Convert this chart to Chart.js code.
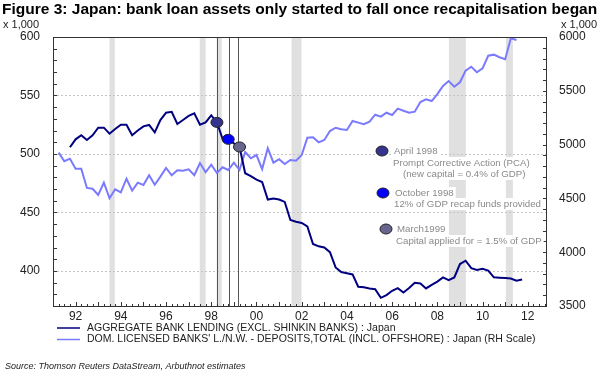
<!DOCTYPE html>
<html>
<head>
<meta charset="utf-8">
<script src="https://cdn.jsdelivr.net/npm/chart.js@4.4.1/dist/chart.umd.min.js"></script>
<style>
  html, body { margin: 0; padding: 0; background: #fff; }
  canvas { display: block; }
</style>
</head>
<body>
<canvas id="chart" width="600" height="376"></canvas>
<script>
// quarterly observations, Japan
var quarters = [
  '1991Q2','1991Q3','1991Q4',
  '1992Q1','1992Q2','1992Q3','1992Q4','1993Q1','1993Q2','1993Q3','1993Q4',
  '1994Q1','1994Q2','1994Q3','1994Q4','1995Q1','1995Q2','1995Q3','1995Q4',
  '1996Q1','1996Q2','1996Q3','1996Q4','1997Q1','1997Q2','1997Q3','1997Q4',
  '1998Q1','1998Q2','1998Q3','1998Q4','1999Q1','1999Q2','1999Q3','1999Q4',
  '2000Q1','2000Q2','2000Q3','2000Q4','2001Q1','2001Q2','2001Q3','2001Q4',
  '2002Q1','2002Q2','2002Q3','2002Q4','2003Q1','2003Q2','2003Q3','2003Q4',
  '2004Q1','2004Q2','2004Q3','2004Q4','2005Q1','2005Q2','2005Q3','2005Q4',
  '2006Q1','2006Q2','2006Q3','2006Q4','2007Q1','2007Q2','2007Q3','2007Q4',
  '2008Q1','2008Q2','2008Q3','2008Q4','2009Q1','2009Q2','2009Q3','2009Q4',
  '2010Q1','2010Q2','2010Q3','2010Q4','2011Q1','2011Q2','2011Q3','2011Q4'
];

// aggregate bank lending (left scale, x 1,000)
var lending = [
  null, null, 505.7,
  512.5, 516, 512, 516,   522.5, 522.5, 517.3, 521.3,
  525, 525, 516, 520,     523.6, 524.8, 518.5, 529,
  535.3, 536, 525.6, 529, 532.5, 534.7, 525, 527,
  533, 527, 513, 512.5,   509, 506, 483.5, 481,
  478, 476, 461, 462,     461, 459, 443.5, 442,
  441, 438, 423, 421,     420, 416, 403, 399,
  398, 397, 386.5, 386,   385, 384.3, 377, 379.3,
  383, 385.3, 381.6, 385.3, 389.8, 389.2, 385, 388.1,
  390.9, 394.4, 392.1, 394.4, 405.9, 408.7, 402.3, 400.9,
  401.8, 400.3, 394.5, 394.2, 394, 393.5, 391.7, 392.6
];

// deposits total (right scale, x 1,000)
var deposits = [
  4925, 4845, 4869,
  4776, 4776, 4597, 4590, 4532, 4646, 4501, 4585,
  4557, 4683, 4572, 4646, 4625, 4715, 4627, 4702,
  4783, 4715, 4761, 4758, 4770, 4715, 4829, 4743,
  4813, 4736, 4789, 4764, 4832, 4764, 4931, 4873,
  4903, 4773, 4966, 4832, 4864, 4820, 4857, 4850,
  4903, 5064, 5068, 5021, 5043, 5126, 5157, 5142,
  5136, 5219, 5204, 5189, 5213, 5278, 5260, 5296,
  5275, 5334, 5315, 5296, 5306, 5396, 5421, 5405,
  5470, 5545, 5591, 5538, 5579, 5687, 5724, 5672,
  5709, 5826, 5836, 5812, 5793, 5988, 5972, null
];

var seriesNames = [
  'AGGREGATE BANK LENDING (EXCL. SHINKIN BANKS) : Japan',
  "DOM. LICENSED BANKS' L./N.W. - DEPOSITS,TOTAL (INCL. OFFSHORE) : Japan (RH Scale)"
];

var xTicks = [1992, 1994, 1996, 1998, 2000, 2002, 2004, 2006, 2008, 2010, 2012];
var leftTicks = [400, 450, 500, 550, 600];
var rightTicks = [3500, 4000, 4500, 5000, 5500, 6000];

// shaded periods (decimal years)
var bands = [
  [1993.50, 1993.73], [1997.49, 1997.75], [1998.24, 1998.46],
  [2001.55, 2001.99], [2008.51, 2009.26], [2011.03, 2011.34]
];

// recapitalisation events
var eventLines = [1998.24, 1998.77, 1999.20];
var eventQuarters = ['1998Q2', '1998Q4', '1999Q2'];
var eventColors = ['#34348f', '#0000ff', '#66668f'];
var eventNotes = [
  ['April 1998', 'Prompt Corrective Action (PCA)', '(new capital = 0.4% of GDP)'],
  ['October 1998', '12% of GDP recap funds provided'],
  ['March1999', 'Capital applied for = 1.5% of GDP']
];

var titleText = 'Figure 3: Japan: bank loan assets only started to fall once recapitalisation began';
var unitText = 'x 1,000';
var sourceText = 'Source: Thomson Reuters DataStream, Arbuthnot estimates';

var FONT = '"Liberation Sans", Arial, Helvetica, sans-serif';
var NAVY = '#000080';
var LIGHT = '#7a7aff';

function yearOf(q) {
  return +q.slice(0, 4) + (+q.charAt(5) - 1) * 0.25;
}
function pairs(values) {
  var out = [];
  values.forEach(function (v, i) {
    if (v !== null) out.push({ x: yearOf(quarters[i]), y: v });
  });
  return out;
}

function hline(ctx, x0, y0, x1, y1) {
  ctx.beginPath(); ctx.moveTo(x0, y0); ctx.lineTo(x1, y1); ctx.stroke();
}

var extras = {
  id: 'extras',
  beforeDatasetsDraw: function (chart) {
    var ctx = chart.ctx, a = chart.chartArea;
    var x = chart.scales.x, y = chart.scales.y;
    ctx.save();
    ctx.fillStyle = '#e0e0e0';
    bands.forEach(function (b) {
      var x0 = x.getPixelForValue(b[0]), x1 = x.getPixelForValue(b[1]);
      ctx.fillRect(x0, a.top, x1 - x0, a.bottom - a.top);
    });
    ctx.lineWidth = 1;
    ctx.strokeStyle = '#c4c4c4';
    ctx.setLineDash([2, 2]);
    leftTicks.forEach(function (v) {
      if (v === 600) return;
      var py = Math.round(y.getPixelForValue(v)) + 0.5;
      hline(ctx, a.left, py, a.right, py);
    });
    ctx.setLineDash([]);
    ctx.strokeStyle = '#555';
    eventLines.forEach(function (d) {
      var px = Math.round(x.getPixelForValue(d)) + 0.5;
      hline(ctx, px, a.top, px, a.bottom);
    });
    ctx.restore();
  },
  afterDatasetsDraw: function (chart) {
    var ctx = chart.ctx, a = chart.chartArea;
    var x = chart.scales.x, y = chart.scales.y, y2 = chart.scales.y2;
    ctx.save();

    // event markers on the lending line
    ctx.lineWidth = 1;
    ctx.strokeStyle = '#222';
    eventQuarters.forEach(function (q, i) {
      var v = lending[quarters.indexOf(q)];
      ctx.beginPath();
      ctx.ellipse(x.getPixelForValue(yearOf(q)), y.getPixelForValue(v), 6, 5, 0, 0, Math.PI * 2);
      ctx.fillStyle = eventColors[i];
      ctx.fill(); ctx.stroke();
    });

    // frame
    ctx.strokeStyle = '#333';
    ctx.strokeRect(a.left + 0.5, a.top + 0.5, a.right - a.left - 1, a.bottom - a.top);

    // inward ticks
    var v, py, px;
    for (v = 370; v <= 600; v += 10) {
      py = Math.round(y.getPixelForValue(v)) + 0.5;
      hline(ctx, a.left, py, a.left + 4, py);
    }
    for (v = 3500; v <= 6000; v += 100) {
      py = Math.round(y2.getPixelForValue(v)) + 0.5;
      hline(ctx, a.right - 4, py, a.right, py);
    }
    for (v = 1991; v <= 2012.75; v += 0.25) {
      px = Math.round(x.getPixelForValue(v)) + 0.5;
      hline(ctx, px, a.bottom, px, a.bottom - (v % 1 === 0 ? 4 : 2));
    }

    // event notes
    ctx.font = '9.7px ' + FONT;
    ctx.textBaseline = 'middle';
    var blocks = [
      { dx: 382, dy: 151, lines: [[394, 151], [393, 163], [403, 174]] },
      { dx: 383, dy: 193, lines: [[395, 193], [394, 204]] },
      { dx: 386, dy: 229, lines: [[397, 229], [396, 241]] }
    ];
    blocks.forEach(function (b, i) {
      eventNotes[i].forEach(function (t, j) {
        var w = ctx.measureText(t).width;
        ctx.fillStyle = '#fff';
        ctx.fillRect(b.lines[j][0] - 2, b.lines[j][1] - 6, w + 4, 12);
        ctx.fillStyle = '#8a8a8a';
        ctx.fillText(t, b.lines[j][0], b.lines[j][1]);
      });
      ctx.beginPath();
      ctx.ellipse(b.dx, b.dy, 6, 5, 0, 0, Math.PI * 2);
      ctx.fillStyle = eventColors[i];
      ctx.strokeStyle = '#222';
      ctx.fill(); ctx.stroke();
    });
    ctx.restore();
  },
  afterDraw: function (chart) {
    var ctx = chart.ctx;
    ctx.save();
    ctx.textBaseline = 'middle';
    ctx.fillStyle = '#000';
    ctx.font = 'bold 15.5px ' + FONT;
    ctx.fillText(titleText, 2, 10);

    ctx.fillStyle = '#222';
    ctx.font = '11px ' + FONT;
    ctx.textAlign = 'left';
    ctx.fillText(unitText, 3, 25);
    ctx.textAlign = 'right';
    ctx.fillText(unitText, 597, 25);

    ctx.textAlign = 'left';
    ctx.font = '10.5px ' + FONT;
    [NAVY, LIGHT].forEach(function (c, i) {
      var ly = 328 + i * 11.5;
      ctx.strokeStyle = c;
      ctx.lineWidth = 1.5;
      hline(ctx, 57, ly, 80, ly);
      ctx.fillStyle = '#222';
      ctx.fillText(seriesNames[i], 87, ly);
    });

    ctx.font = 'italic 9px ' + FONT;
    ctx.fillStyle = '#222';
    ctx.fillText(sourceText, 5, 366);
    ctx.restore();
  }
};

var tickFont = { family: FONT, size: 12 };
function plain(v) { return String(v); }

new Chart(document.getElementById('chart'), {
  type: 'line',
  data: {
    datasets: [
      {
        label: seriesNames[0],
        data: pairs(lending),
        yAxisID: 'y',
        borderColor: NAVY,
        borderWidth: 2,
        pointRadius: 0,
        tension: 0,
        fill: false
      },
      {
        label: seriesNames[1],
        data: pairs(deposits),
        yAxisID: 'y2',
        borderColor: LIGHT,
        borderWidth: 2,
        pointRadius: 0,
        tension: 0,
        fill: false
      }
    ]
  },
  options: {
    responsive: false,
    animation: false,
    layout: { padding: { top: 37, left: 0, right: 0, bottom: 0 } },
    plugins: { legend: { display: false }, tooltip: { enabled: false } },
    scales: {
      x: {
        type: 'linear',
        min: 1991.0,
        max: 2012.85,
        grid: { display: false, drawTicks: false },
        border: { display: false },
        afterBuildTicks: function (s) { s.ticks = xTicks.map(function (v) { return { value: v }; }); },
        afterFit: function (s) { s.height = 70; },
        ticks: {
          autoSkip: false,
          maxRotation: 0,
          padding: 3,
          color: '#222',
          font: tickFont,
          callback: function (v) { return String(v).slice(2); }
        }
      },
      y: {
        position: 'left',
        min: 370,
        max: 600,
        grid: { display: false, drawTicks: false },
        border: { display: false },
        afterBuildTicks: function (s) { s.ticks = leftTicks.map(function (v) { return { value: v }; }); },
        afterFit: function (s) { s.width = 53; },
        ticks: { padding: 13, color: '#222', font: tickFont, callback: plain }
      },
      y2: {
        position: 'right',
        min: 3500,
        max: 6000,
        grid: { display: false, drawTicks: false },
        border: { display: false },
        afterBuildTicks: function (s) { s.ticks = rightTicks.map(function (v) { return { value: v }; }); },
        afterFit: function (s) { s.width = 53; },
        ticks: { padding: 12, color: '#222', font: tickFont, callback: plain }
      }
    }
  },
  plugins: [extras]
});
</script>
</body>
</html>
